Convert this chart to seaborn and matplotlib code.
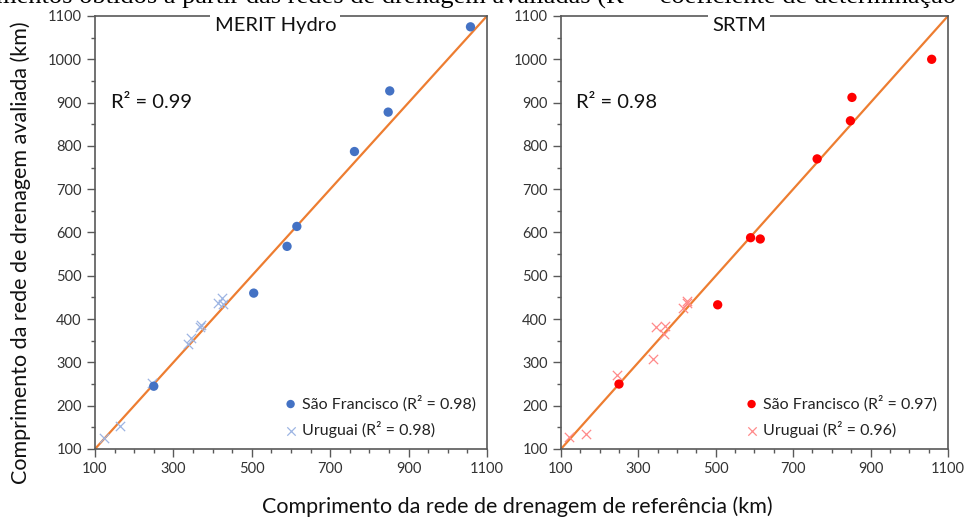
# Comparação das redes de drenagem: MERIT Hydro e SRTM vs referência
import matplotlib
matplotlib.use("Agg")
import matplotlib.pyplot as plt
import matplotlib.ticker as mticker
import seaborn as sns
import pandas as pd

# comprimentos de referência (km)
sf_ref = [250, 505, 590, 615, 762, 848, 852, 1058]
ur_ref = [122, 164, 245, 338, 346, 367, 370, 415, 425, 427]

# MERIT Hydro (km)
merit_sf = [245, 460, 568, 614, 787, 878, 927, 1075]
merit_ur = [125, 153, 252, 342, 356, 382, 387, 437, 448, 435]

# SRTM (km)
srtm_sf = [250, 433, 588, 585, 770, 858, 912, 1000]
srtm_ur = [128, 135, 271, 309, 381, 366, 383, 425, 442, 438]

one_to_one = [100, 1100]
panels = ["MERIT Hydro", "SRTM"]
r2_total = ["R² = 0.99", "R² = 0.98"]
r2_sf = ["0.98", "0.97"]
r2_ur = ["0.98", "0.96"]
sf_colors = ["#4472C4", "#FF0000"]
ur_colors = ["#9DB5E3", "#FF8A8A"]

sns.set_style("white")
plt.rcParams["font.family"] = ["Lato", "DejaVu Sans"]

fig = plt.figure(figsize=(9.66, 5.21), dpi=100)
axes = [fig.add_axes([0.0983, 0.1382, 0.4058, 0.8311]),
        fig.add_axes([0.5807, 0.1382, 0.4006, 0.8311])]

data = [(merit_sf, merit_ur), (srtm_sf, srtm_ur)]
for i, ax in enumerate(axes):
    sf_vals, ur_vals = data[i]
    df_sf = pd.DataFrame({"ref": sf_ref, "val": sf_vals})
    df_ur = pd.DataFrame({"ref": ur_ref, "val": ur_vals})

    ax.plot(one_to_one, one_to_one, color="#ED7D31", lw=1.6, zorder=1)
    sns.scatterplot(data=df_sf, x="ref", y="val", ax=ax, color=sf_colors[i],
                    marker="o", s=45, edgecolor="none", zorder=3,
                    label=f"São Francisco (R² = {r2_sf[i]})")
    sns.scatterplot(data=df_ur, x="ref", y="val", ax=ax, color=ur_colors[i],
                    marker="x", s=45, linewidth=0.9, zorder=2,
                    label=f"Uruguai (R² = {r2_ur[i]})")

    ax.set_xlim(100, 1100)
    ax.set_ylim(100, 1100)
    ax.xaxis.set_major_locator(mticker.FixedLocator(range(100, 1101, 200)))
    ax.xaxis.set_minor_locator(mticker.MultipleLocator(50))
    ax.yaxis.set_major_locator(mticker.MultipleLocator(100))
    ax.yaxis.set_minor_locator(mticker.MultipleLocator(50))
    ax.tick_params(which="major", direction="out", length=6, width=1,
                   color="#595959", labelsize=10.5, labelcolor="#333333",
                   bottom=True, left=True)
    ax.tick_params(which="minor", direction="out", length=3, width=1,
                   color="#595959", bottom=True, left=True)
    for sp in ax.spines.values():
        sp.set_color("#595959")
        sp.set_linewidth(1.2)
    ax.set_xlabel("")
    ax.set_ylabel("")

    ax.text(0.46, 0.978, panels[i], transform=ax.transAxes, ha="center",
            va="center", fontsize=14.5, color="#111111", zorder=5,
            bbox=dict(facecolor="white", edgecolor="none", pad=3))
    ax.text(0.04, 0.80, r2_total[i], transform=ax.transAxes, ha="left",
            va="center", fontsize=14.5, color="#111111")
    leg = ax.legend(loc="lower right", frameon=False, fontsize=11.5,
                    handletextpad=0.1, borderaxespad=0.3, labelspacing=0.6,
                    markerscale=0.9, handlelength=1.2)
    for t in leg.get_texts():
        t.set_color("#222222")

fig.text(0.021, 0.515, "Comprimento da rede de drenagem avaliada (km)",
         rotation=90, ha="center", va="center", fontsize=15.5, color="#111111")
fig.text(0.536, 0.027, "Comprimento da rede de drenagem de referência (km)",
         ha="center", va="center", fontsize=15.5, color="#111111")
fig.text(-0.004, 1.008, "mentos obtidos a partir das redes de drenagem avaliadas "
         "(R² = coeficiente de determinação", ha="left", va="center",
         fontsize=19, family=["Liberation Serif", "DejaVu Serif"], color="black")

fig.savefig("out.png", dpi=100)
